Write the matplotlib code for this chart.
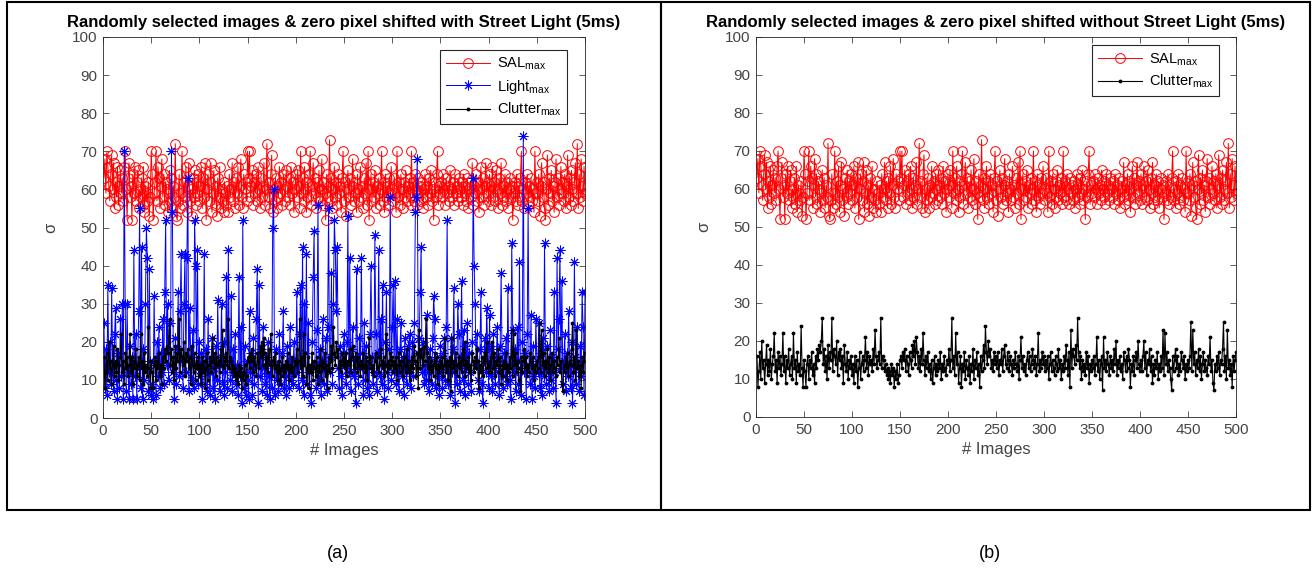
import numpy as np
import matplotlib
matplotlib.use("Agg")
import matplotlib.pyplot as plt
from matplotlib.patches import Rectangle

plt.rcParams['font.family'] = ['Liberation Sans', 'DejaVu Sans']
plt.rcParams['mathtext.fontset'] = 'custom'
plt.rcParams['mathtext.rm'] = 'Liberation Sans'

# sigma of saliency maximum, per image (same 500 images in both panels)
sal = [63, 68, 59, 70, 66, 61, 57, 64, 69, 60, 67, 55, 62, 58, 66, 56, 61, 65, 59, 63, 57, 66, 70, 60, 52,
       63, 67, 58, 61, 52, 64, 59, 66, 57, 62, 65, 55, 60, 58, 63, 56, 66, 54, 61, 59, 57, 62, 53, 58, 70,
       64, 52, 59, 62, 70, 57, 66, 63, 55, 61, 68, 58, 64, 56, 62, 60, 54, 59, 65, 57, 63, 55, 61, 58, 72,
       53, 52, 57, 64, 55, 59, 70, 56, 62, 58, 66, 54, 61, 67, 57, 60, 53, 63, 58, 65, 56, 62, 59, 64, 57,
       61, 66, 55, 63, 58, 67, 52, 60, 64, 57, 62, 67, 54, 59, 65, 56, 61, 53, 63, 58, 66, 55, 60, 57, 54,
       62, 59, 56, 61, 54, 64, 58, 60, 67, 57, 62, 55, 63, 59, 66, 56, 61, 68, 58, 55, 64, 60, 62, 57, 70,
       63, 70, 58, 61, 65, 56, 62, 59, 64, 57, 66, 60, 55, 63, 58, 61, 67, 56, 60, 72, 58, 62, 55, 64, 69,
       54, 60, 57, 63, 55, 61, 58, 66, 59, 62, 56, 64, 60, 57, 65, 61, 58, 63, 56, 66, 59, 62, 54, 60, 64,
       58, 65, 61, 55, 70, 59, 63, 57, 66, 60, 54, 62, 58, 64, 70, 56, 61, 67, 59, 63, 55, 62, 58, 65, 57,
       60, 68, 56, 62, 59, 52, 64, 58, 61, 73, 57, 63, 55, 60, 66, 58, 62, 56, 64, 59, 61, 54, 63, 70, 57,
       62, 53, 60, 65, 58, 63, 56, 61, 68, 57, 62, 59, 54, 64, 60, 57, 66, 58, 61, 55, 63, 59, 67, 56, 70,
       52, 60, 64, 57, 62, 58, 65, 55, 61, 59, 63, 56, 60, 70, 57, 62, 54, 64, 58, 61, 56, 63, 59, 66, 60,
       57, 63, 59, 54, 70, 58, 62, 56, 64, 60, 55, 62, 58, 65, 57, 61, 59, 63, 56, 70, 58, 62, 57, 64, 60,
       56, 63, 59, 61, 57, 62, 55, 60, 64, 58, 61, 56, 63, 59, 65, 57, 60, 52, 62, 58, 64, 70, 56, 61, 59,
       62, 58, 64, 60, 56, 63, 59, 61, 57, 65, 60, 58, 62, 56, 64, 59, 61, 57, 63, 60, 58, 62, 56, 64, 59,
       61, 57, 63, 55, 60, 62, 58, 67, 56, 61, 59, 64, 57, 62, 54, 60, 66, 58, 63, 56, 61, 67, 59, 62, 57,
       64, 56, 61, 66, 58, 62, 57, 65, 60, 55, 63, 59, 67, 56, 61, 58, 64, 57, 62, 55, 60, 63, 58, 61, 52,
       59, 62, 57, 64, 56, 61, 58, 63, 70, 57, 60, 55, 62, 59, 64, 56, 61, 58, 63, 57, 60, 54, 70, 59, 62,
       57, 64, 53, 61, 67, 58, 62, 55, 52, 60, 69, 56, 63, 59, 65, 57, 61, 54, 62, 68, 58, 63, 56, 60, 66,
       59, 62, 57, 64, 55, 61, 69, 58, 63, 56, 65, 60, 57, 62, 67, 59, 72, 55, 64, 58, 68, 61, 57, 66, 59]

# sigma of street light maximum (panel a only)
light = [25, 8, 18, 6, 35, 12, 20, 9, 34, 14, 7, 22, 29, 10, 5, 17, 8, 26, 11, 30, 5, 70, 30, 7, 30,
         12, 5, 19, 9, 16, 5, 44, 11, 22, 5, 14, 28, 55, 8, 45, 5, 18, 10, 30, 50, 42, 7, 39, 15, 6,
         9, 5, 32, 14, 6, 20, 11, 24, 8, 17, 12, 26, 9, 33, 52, 14, 30, 10, 25, 14, 70, 54, 12, 5, 21,
         9, 18, 33, 11, 28, 43, 15, 8, 30, 43, 12, 42, 63, 7, 29, 16, 10, 23, 8, 52, 40, 14, 44, 9, 20,
         11, 17, 5, 13, 43, 9, 18, 7, 26, 12, 6, 15, 21, 8, 13, 5, 19, 10, 31, 14, 7, 16, 30, 9, 20,
         6, 12, 37, 8, 44, 15, 10, 32, 7, 18, 12, 22, 9, 14, 6, 37, 11, 24, 4, 52, 8, 19, 6, 15, 10,
         5, 28, 12, 17, 6, 21, 9, 14, 26, 39, 4, 35, 11, 18, 7, 24, 13, 9, 16, 6, 20, 11, 5, 15, 8,
         50, 60, 6, 18, 10, 14, 7, 22, 12, 9, 17, 28, 8, 13, 6, 19, 11, 8, 24, 10, 15, 9, 20, 12, 12,
         33, 14, 8, 22, 35, 10, 45, 6, 30, 17, 43, 9, 25, 12, 6, 4, 20, 37, 49, 14, 8, 23, 56, 10, 18,
         6, 15, 26, 9, 13, 21, 7, 24, 55, 12, 16, 38, 9, 30, 52, 44, 28, 45, 13, 8, 19, 11, 6, 17, 22,
         14, 9, 20, 53, 12, 42, 7, 18, 24, 11, 16, 4, 39, 15, 9, 21, 13, 42, 17, 6, 25, 10, 19, 8, 14,
         6, 22, 40, 16, 9, 12, 48, 22, 7, 17, 44, 11, 26, 9, 35, 14, 5, 20, 33, 12, 8, 18, 58, 10, 24,
         35, 12, 36, 9, 26, 12, 7, 18, 25, 11, 16, 6, 21, 13, 9, 19, 12, 22, 8, 15, 20, 11, 25, 54, 58,
         68, 17, 21, 33, 45, 12, 20, 9, 14, 10, 27, 12, 7, 18, 15, 9, 21, 32, 26, 8, 16, 11, 14, 6, 19,
         12, 8, 17, 21, 10, 24, 52, 9, 15, 6, 21, 12, 18, 34, 4, 14, 9, 30, 22, 7, 16, 36, 10, 23, 6,
         19, 13, 25, 9, 17, 12, 7, 20, 63, 40, 30, 14, 22, 10, 7, 18, 33, 9, 4, 15, 21, 12, 29, 19, 8,
         27, 11, 18, 7, 22, 13, 9, 16, 24, 12, 6, 19, 38, 15, 8, 17, 11, 21, 9, 34, 14, 10, 5, 46, 23,
         12, 18, 7, 15, 24, 9, 41, 13, 6, 20, 74, 12, 17, 5, 22, 55, 14, 9, 27, 5, 19, 11, 8, 26, 15,
         12, 25, 8, 17, 6, 21, 11, 46, 14, 9, 19, 12, 7, 23, 10, 16, 8, 33, 12, 4, 42, 18, 26, 44, 13,
         36, 9, 15, 22, 7, 17, 11, 28, 14, 8, 20, 4, 12, 41, 16, 9, 24, 13, 7, 19, 11, 33, 24, 6, 33]

# sigma of clutter maximum (same 500 images in both panels)
clutter = [16, 8, 12, 17, 10, 20, 13, 15, 9, 14, 19, 11, 15, 12, 18, 10, 14, 16, 22, 12, 15, 9, 17, 13, 16,
           11, 14, 22, 12, 16, 9, 15, 13, 18, 11, 14, 16, 10, 22, 13, 15, 9, 17, 12, 14, 11, 24, 13, 8, 15,
           12, 8, 14, 16, 10, 15, 13, 17, 11, 14, 9, 16, 13, 18, 15, 19, 17, 20, 26, 14, 18, 12, 16, 10, 19,
           13, 17, 15, 26, 12, 18, 16, 14, 20, 11, 17, 15, 18, 13, 16, 9, 19, 14, 12, 17, 10, 15, 13, 16, 11,
           14, 9, 16, 12, 15, 8, 13, 17, 10, 14, 16, 12, 15, 21, 13, 17, 11, 16, 14, 15, 12, 18, 14, 23, 16,
           13, 15, 17, 14, 26, 13, 16, 15, 12, 14, 11, 13, 10, 12, 9, 14, 11, 13, 8, 12, 10, 14, 9, 11, 15,
           16, 13, 17, 15, 18, 12, 16, 14, 11, 17, 15, 13, 19, 16, 20, 14, 21, 17, 13, 16, 12, 18, 14, 22, 15,
           11, 16, 13, 17, 12, 14, 10, 15, 9, 13, 16, 11, 14, 12, 15, 13, 17, 10, 14, 12, 16, 13, 11, 15, 14,
           18, 12, 15, 26, 13, 16, 11, 22, 14, 17, 9, 13, 16, 8, 14, 12, 17, 10, 15, 13, 11, 16, 9, 14, 12,
           18, 10, 15, 13, 17, 11, 14, 8, 16, 12, 15, 19, 13, 24, 17, 14, 20, 16, 18, 13, 15, 12, 17, 14, 16,
           13, 17, 11, 15, 14, 18, 12, 16, 19, 14, 13, 17, 15, 12, 16, 14, 11, 15, 13, 17, 14, 12, 16, 10, 15,
           21, 13, 16, 12, 14, 11, 15, 17, 13, 16, 12, 14, 18, 15, 13, 16, 11, 14, 22, 12, 15, 13, 17, 14, 16,
           12, 15, 13, 16, 10, 14, 17, 12, 15, 13, 11, 16, 14, 12, 18, 13, 15, 10, 14, 12, 16, 13, 19, 15, 11,
           17, 8, 23, 13, 18, 16, 14, 19, 15, 26, 17, 13, 16, 10, 15, 12, 14, 11, 17, 13, 16, 9, 14, 12, 15,
           13, 16, 11, 14, 21, 12, 15, 10, 14, 16, 7, 21, 13, 15, 12, 17, 14, 11, 16, 13, 15, 12, 18, 14, 20,
           11, 15, 13, 16, 12, 14, 10, 17, 15, 12, 16, 13, 18, 15, 8, 14, 12, 16, 11, 15, 17, 13, 20, 14, 12,
           15, 12, 16, 20, 13, 17, 11, 15, 14, 18, 12, 16, 9, 14, 11, 15, 13, 17, 10, 14, 12, 16, 13, 23, 11,
           22, 14, 17, 12, 15, 13, 10, 7, 16, 12, 15, 18, 13, 16, 11, 14, 12, 17, 15, 13, 16, 10, 14, 12, 15,
           13, 16, 25, 12, 23, 14, 17, 11, 15, 13, 18, 12, 16, 10, 14, 17, 12, 15, 13, 11, 16, 14, 21, 12, 15,
           9, 7, 14, 12, 16, 13, 17, 11, 15, 14, 18, 25, 12, 16, 10, 23, 13, 15, 11, 14, 8, 16, 12, 15, 17]

titles = ["Randomly selected images & zero pixel shifted with Street Light (5ms)",
          "Randomly selected images & zero pixel shifted without Street Light (5ms)"]
captions = ["(a)", "(b)"]

W, H = 1312, 579
fig = plt.figure(figsize=(W / 100, H / 100), dpi=100)


def rect(x0, y0, x1, y1):
    # pixel box (top-left origin) -> figure fraction [l, b, w, h]
    return [x0 / W, 1 - y1 / H, (x1 - x0) / W, (y1 - y0) / H]


# panel frames
for x0, x1 in [(7, 661), (661, 1310)]:
    l, b, w, h = rect(x0, 2, x1, 510)
    fig.add_artist(Rectangle((l, b), w, h, fill=False, lw=1.5, ec='black',
                             transform=fig.transFigure))

axA = fig.add_axes(rect(103, 37, 585, 418))
axB = fig.add_axes(rect(756, 37, 1236, 417))

gray = '#444444'


def style(ax, title):
    ax.set_xlim(0, 500)
    ax.set_ylim(0, 100)
    ax.set_xticks(range(0, 501, 50))
    ax.set_yticks(range(0, 101, 10))
    ax.tick_params(direction='in', top=True, right=True, length=4, width=0.6,
                   colors=gray, labelsize=11, pad=4)
    for s in ax.spines.values():
        s.set_color('#262626')
        s.set_linewidth(0.6)
    ax.set_title(title, fontsize=12, fontweight='bold', pad=7)
    ax.set_xlabel('# Images', fontsize=12, color=gray, labelpad=4)
    ax.set_ylabel('σ', fontsize=12, color=gray, labelpad=10)


sal_kw = dict(color='#ff0000', lw=0.7, marker='o', ms=7, mfc='none', mew=0.7)
light_kw = dict(color='#0000ff', lw=0.7, marker=(8, 2, 0), ms=7, mew=0.7)
clut_kw = dict(color='black', lw=0.8, marker='.', ms=3.5)

axA.plot(np.arange(1, len(sal) + 1), sal, label=r'SAL$_{\rm max}$', **sal_kw)
axA.plot(np.arange(1, len(light) + 1), light, label=r'Light$_{\rm max}$', **light_kw)
axA.plot(np.arange(1, len(clutter) + 1), clutter, label=r'Clutter$_{\rm max}$', **clut_kw)

axB.plot(np.arange(1, len(sal) + 1), sal, label=r'SAL$_{\rm max}$', **sal_kw)
axB.plot(np.arange(1, len(clutter) + 1), clutter, label=r'Clutter$_{\rm max}$', **clut_kw)

style(axA, titles[0])
style(axB, titles[1])

for ax, anchor in [(axA, (0.963, 0.966)), (axB, (0.965, 0.979))]:
    leg = ax.legend(loc='upper right', bbox_to_anchor=anchor, fontsize=10.5,
                    fancybox=False, framealpha=1, edgecolor='#262626',
                    handlelength=3.0, borderpad=0.4, labelspacing=0.35,
                    handletextpad=0.5, borderaxespad=0)
    leg.get_frame().set_linewidth(0.8)

fig.text(338 / W, 1 - 553 / H, captions[0], ha='center', va='center', fontsize=13)
fig.text(990 / W, 1 - 553 / H, captions[1], ha='center', va='center', fontsize=13)

fig.savefig('out.png', dpi=100)
